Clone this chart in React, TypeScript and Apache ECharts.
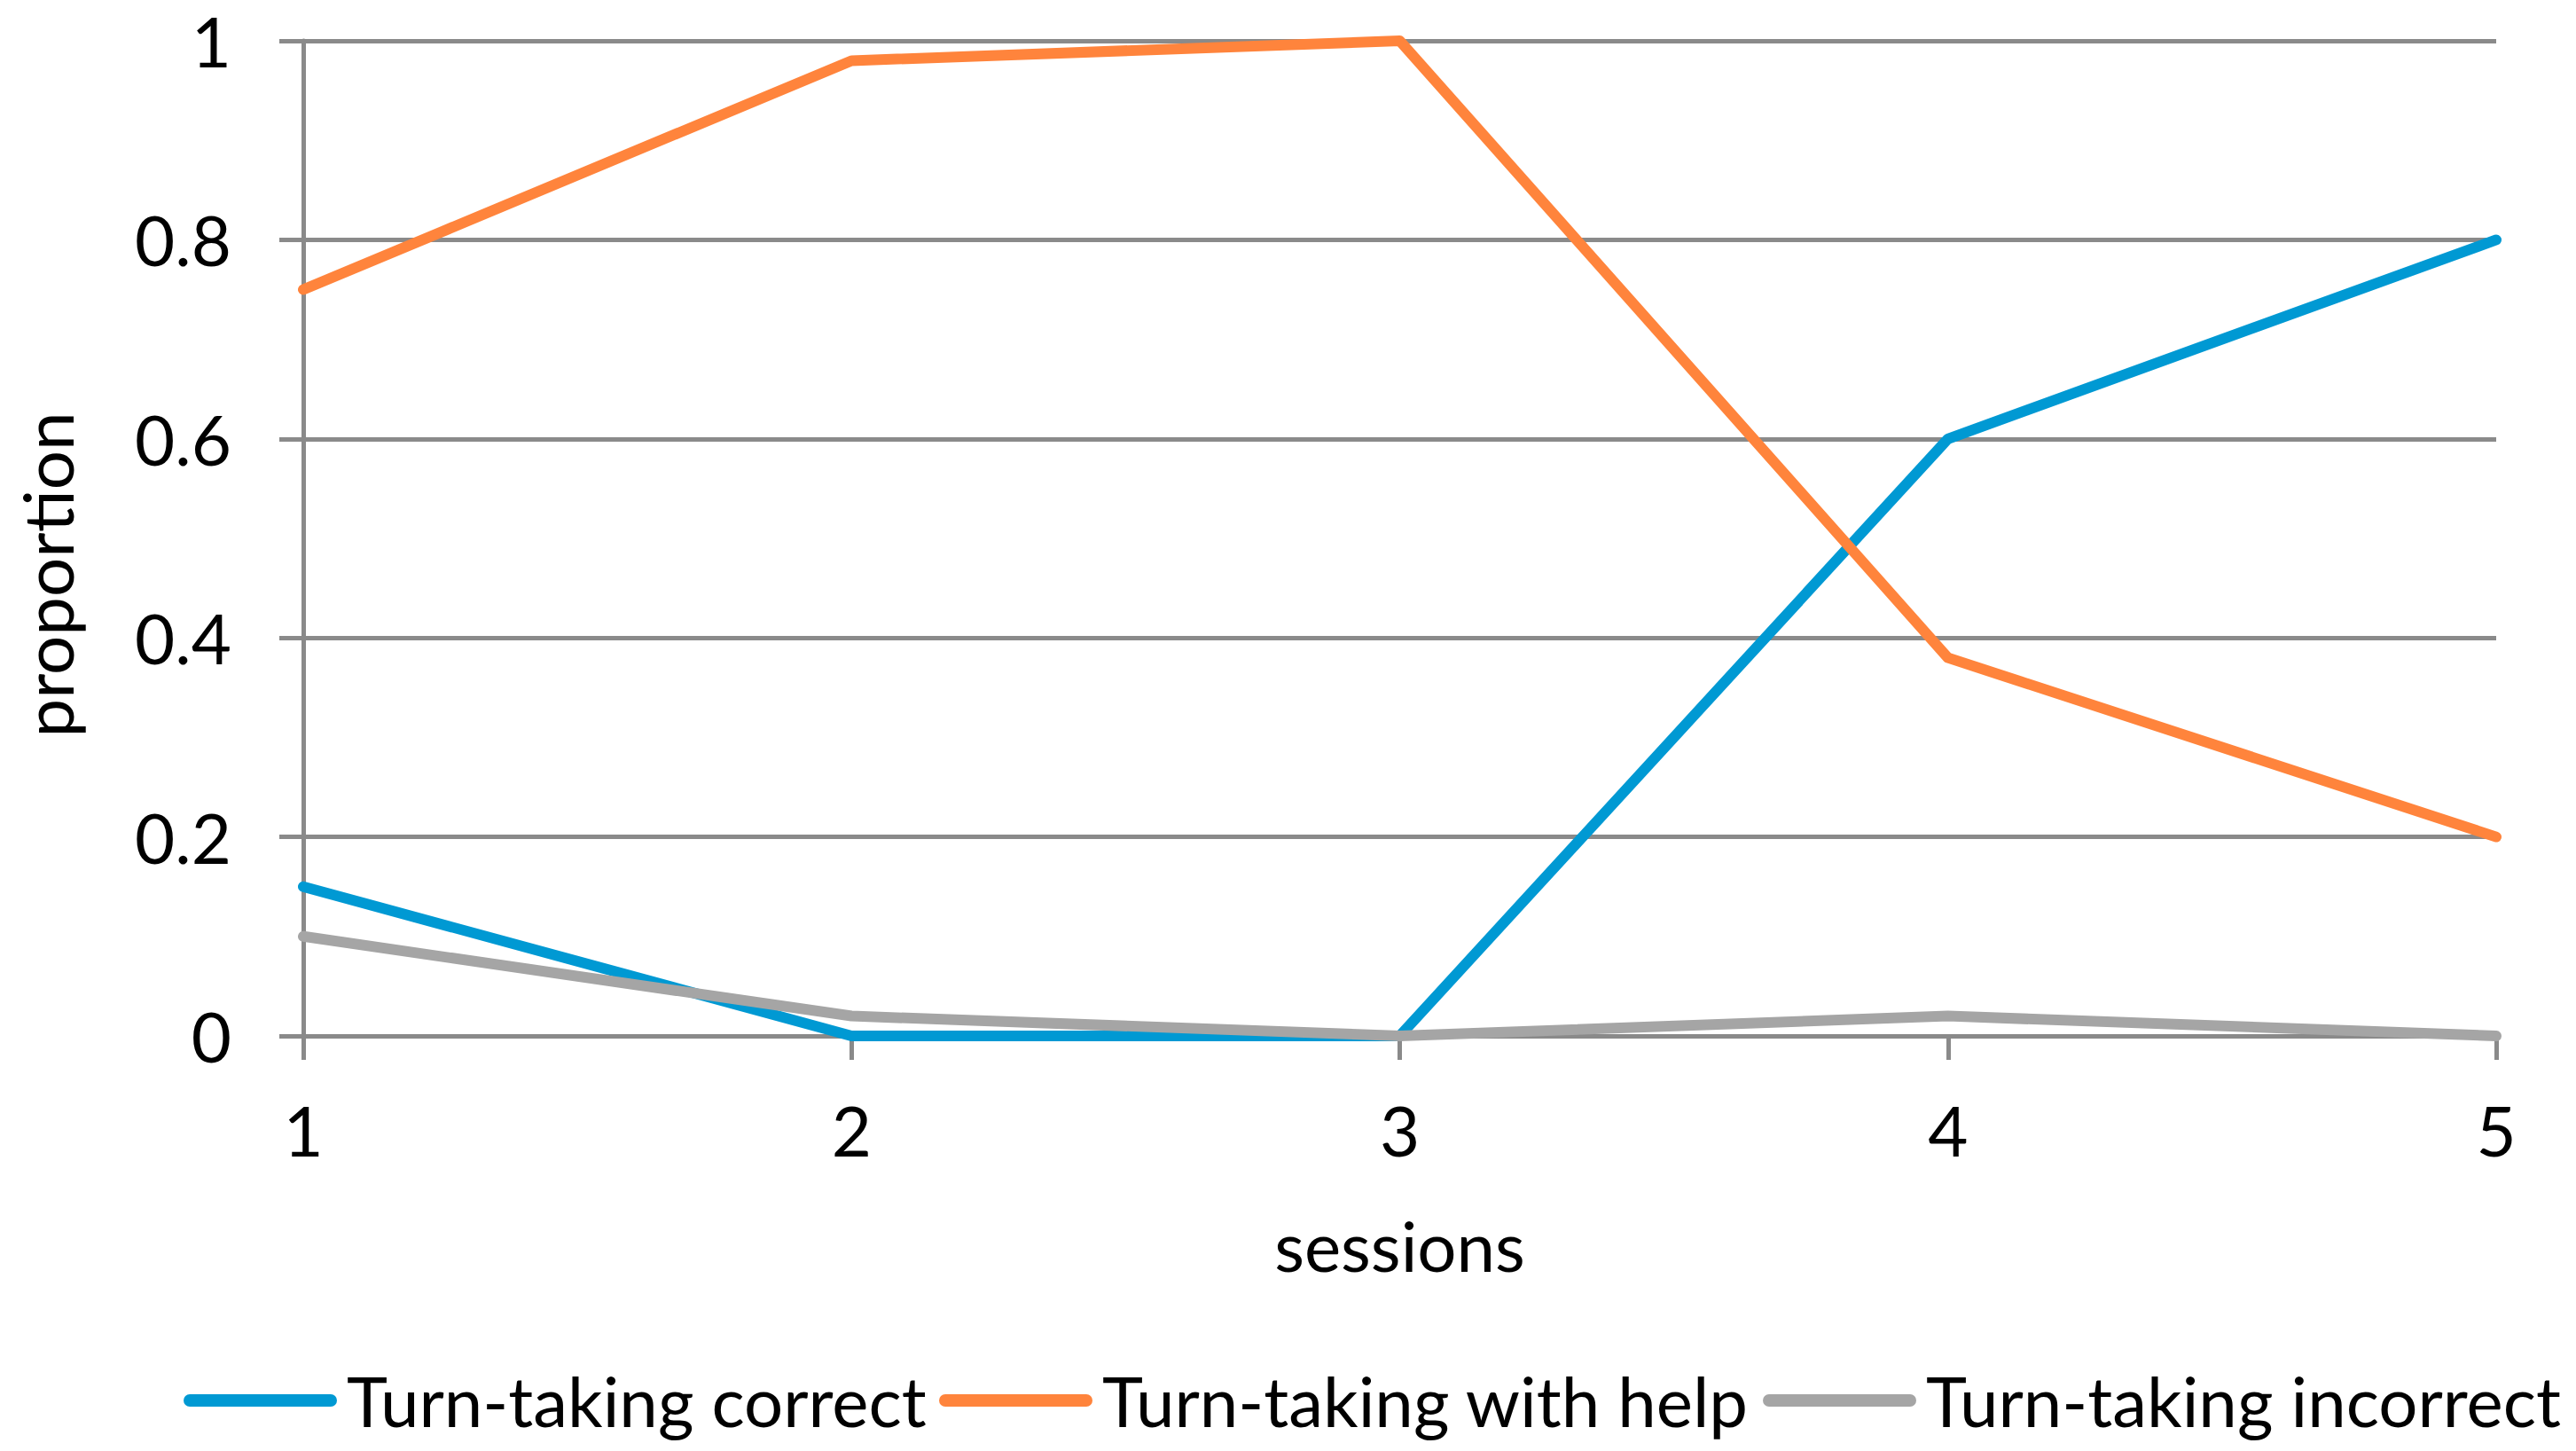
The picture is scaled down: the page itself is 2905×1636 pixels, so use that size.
import React, { useEffect, useRef } from "react";
import * as echarts from "echarts";

const sessions = ["1", "2", "3", "4", "5"];
const correct = [0.15, 0, 0, 0.6, 0.8];
const withHelp = [0.75, 0.98, 1.0, 0.38, 0.2];
const incorrect = [0.1, 0.02, 0, 0.02, 0];
const seriesNames = ["Turn-taking correct", "Turn-taking with help", "Turn-taking incorrect"];
const seriesColors = ["#0099D3", "#FF843C", "#A5A5A5"];
const legendLefts = [207, 1059, 1988];

const FONT = "Lato";
const AXIS_COLOR = "#8A8A8A";

export default function App() {
  const ref = useRef<HTMLDivElement>(null);
  useEffect(() => {
    document.body.style.margin = "0";
    document.body.style.overflow = "hidden";
    const chart = echarts.init(ref.current!, null, { renderer: "svg" });
    const values = [correct, withHelp, incorrect];
    chart.setOption({
      animation: false,
      backgroundColor: "#FFFFFF",
      textStyle: { fontFamily: FONT },
      grid: { left: 342, right: 90, top: 46, bottom: 468, containLabel: false },
      legend: seriesNames.map((name, i) => ({
        left: legendLefts[i],
        top: 1540,
        width: 1000,
        orient: "horizontal",
        itemWidth: 173,
        itemHeight: 14,
        padding: 0,
        icon: "path://M7,0 L166,0 A7,7 0 0 1 166,14 L7,14 A7,7 0 0 1 7,0 Z",
        textStyle: {
          fontFamily: FONT,
          fontSize: 78,
          lineHeight: 78,
          color: "#000000",
          padding: [0, 0, 0, 6],
        },
        data: [name],
      })),
      xAxis: {
        type: "category",
        data: sessions,
        boundaryGap: false,
        name: "sessions",
        nameLocation: "middle",
        nameGap: 197,
        nameTextStyle: { fontFamily: FONT, fontSize: 78, lineHeight: 78, color: "#000000" },
        axisLine: { show: true, lineStyle: { color: AXIS_COLOR, width: 5 } },
        axisTick: { show: true, inside: false, length: 27, alignWithLabel: true, lineStyle: { color: AXIS_COLOR, width: 5 } },
        axisLabel: { margin: 67, fontFamily: FONT, fontSize: 78, lineHeight: 78, color: "#000000" },
        splitLine: { show: false },
      },
      yAxis: {
        type: "value",
        min: 0,
        max: 1,
        interval: 0.2,
        name: "proportion",
        nameLocation: "middle",
        nameGap: 250,
        nameRotate: 90,
        nameTextStyle: { fontFamily: FONT, fontSize: 78, lineHeight: 78, color: "#000000", padding: [0, 82, 0, 0] },
        axisLine: { show: true, lineStyle: { color: AXIS_COLOR, width: 5 } },
        axisTick: { show: true, inside: false, length: 27, lineStyle: { color: AXIS_COLOR, width: 5 } },
        axisLabel: { margin: 81, fontFamily: FONT, fontSize: 78, lineHeight: 78, color: "#000000" },
        splitLine: { show: true, lineStyle: { color: AXIS_COLOR, width: 5 } },
      },
      series: seriesNames.map((name, i) => ({
        name,
        type: "line",
        data: values[i],
        symbol: "none",
        showSymbol: false,
        color: seriesColors[i],
        lineStyle: { color: seriesColors[i], width: 12, cap: "round", join: "round" },
        itemStyle: { color: seriesColors[i] },
        z: 2 + i,
      })),
    });
    return () => chart.dispose();
  }, []);
  return <div ref={ref} style={{ width: 2905, height: 1636 }} />;
}
